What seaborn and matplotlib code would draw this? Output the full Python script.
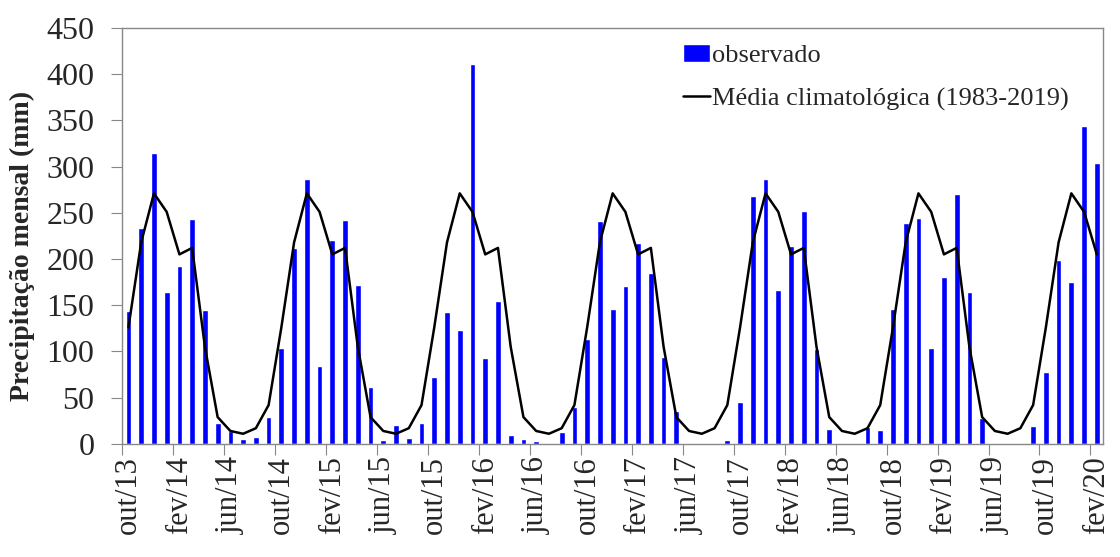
import matplotlib
matplotlib.use("Agg")
import matplotlib.pyplot as plt
import seaborn as sns
import numpy as np
import pandas as pd

# %%
month_names = ["jan", "fev", "mar", "abr", "mai", "jun",
               "jul", "ago", "set", "out", "nov", "dez"]
start_month = 9  # out
start_year = 13
n_months = 77

# observado, out/13 - fev/20 (mm)
observado = [
    144, 233, 315, 164, 192, 243, 145, 23, 14, 5, 8, 29,
    104, 212, 287, 84, 221, 242, 172, 62, 4, 20, 6, 23,
    72, 143, 123, 411, 93, 155, 10, 5, 3, 1, 13, 40,
    114, 241, 146, 171, 217, 185, 94, 36, 1, 1, 0, 4,
    45, 268, 286, 166, 214, 252, 103, 16, 1, 0, 18, 15,
    146, 239, 244, 104, 180, 270, 164, 28, 1, 0, 1, 19,
    78, 199, 175, 344, 304,
]

# média climatológica (1983-2019), out ... set
climatologia = [126, 218, 271, 251, 205, 212, 105, 29, 14, 11, 17, 42]

y_ticks = [0, 50, 100, 150, 200, 250, 300, 350, 400, 450]

# %%
labels = []
for i in range(n_months):
    m = (start_month + i) % 12
    yr = start_year + (start_month + i) // 12
    labels.append(f"{month_names[m]}/{yr}")

media = [climatologia[i % 12] for i in range(n_months)]

df = pd.DataFrame({
    "mes": labels,
    "pos": np.arange(n_months),
    "observado": observado,
    "media": media,
})

sns.set_style("white")
plt.rcParams["font.family"] = ["Liberation Serif", "DejaVu Serif"]

fig, ax = plt.subplots(figsize=(11.2, 5.57), dpi=100)
fig.subplots_adjust(left=0.109, right=0.985, top=0.950, bottom=0.203)

sns.barplot(data=df, x="mes", y="observado", color="#0000FF",
            saturation=1, width=0.45, ax=ax, label="observado")
sns.lineplot(data=df, x="pos", y="media", color="black", linewidth=1.8,
             ax=ax, label="Média climatológica (1983-2019)")

ax.set_xlim(-0.5, n_months - 0.5)
ax.set_ylim(0, 450)
ax.set_yticks(y_ticks)
ax.tick_params(axis="y", labelsize=23, length=8, color="#888888",
               direction="out", left=True, pad=12)

# ticks at category boundaries, labels at category centres
ax.set_xticks(np.arange(-0.5, n_months - 0.5, 4))
ax.set_xticklabels([])
ax.set_xticks(np.arange(0, n_months, 4), minor=True)
ax.set_xticklabels(labels[::4], minor=True, rotation=90)
ax.tick_params(axis="x", which="major", length=8, color="#888888",
               direction="out", bottom=True)
ax.tick_params(axis="x", which="minor", length=0, labelsize=22, pad=9)

ax.set_xlabel("")
ax.set_ylabel("Precipitação mensal (mm)", fontsize=20, fontweight="bold")
ax.yaxis.set_label_coords(-0.089, 0.476)

for s in ax.spines.values():
    s.set_color("#888888")
    s.set_linewidth(1.0)

handles, names = ax.get_legend_handles_labels()
order = [names.index("observado"), names.index("Média climatológica (1983-2019)")]
ax.legend([handles[i] for i in order], [names[i] for i in order],
          loc="upper left", bbox_to_anchor=(0.556, 1.0), frameon=False,
          fontsize=19, handlelength=1.0, handletextpad=0.1,
          labelspacing=0.75, borderaxespad=0.2)

plt.savefig("out.png", dpi=100)
